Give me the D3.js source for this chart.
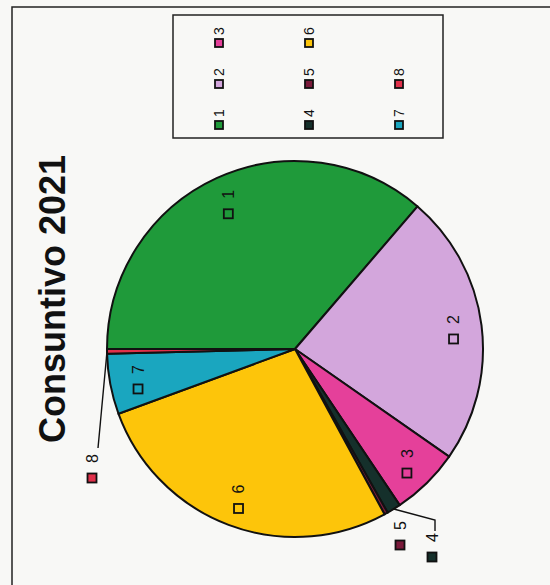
<!DOCTYPE html>
<html>
<head>
<meta charset="utf-8">
<script src="https://cdn.jsdelivr.net/npm/d3@7"></script>
<style>
body { margin: 0; background: #f8f8f6; }
svg { display: block; }
</style>
</head>
<body>
<div id="chart"></div>
<script>
var title = "Consuntivo 2021";
var categories = ["1", "2", "3", "4", "5", "6", "7", "8"];
var values = [36.3, 23.4, 5.9, 1.2, 0.3, 27.3, 5.2, 0.4];
var colors = ["#1f9a3a", "#d3a6dc", "#e5409a", "#15302b", "#7a1a3a", "#fdc50a", "#1aa6bf", "#e0304a"];

var W = 550, H = 585;

var svg = d3.select("#chart").append("svg")
	.attr("width", W)
	.attr("height", H);

// the scanned page is turned a quarter turn, so the whole chart is drawn in a rotated group
var g = svg.append("g")
	.attr("transform", "translate(0," + H + ") rotate(-90)");

// outer frame (runs off the page on two sides)
g.append("rect")
	.attr("x", -20).attr("y", 12)
	.attr("width", 598).attr("height", 600)
	.attr("fill", "none")
	.attr("stroke", "#222")
	.attr("stroke-width", 1.5);

g.append("text")
	.attr("x", 286).attr("y", 65)
	.attr("text-anchor", "middle")
	.attr("font-family", "Liberation Sans, Arial, sans-serif")
	.attr("font-weight", "bold")
	.attr("font-size", "36px")
	.attr("fill", "#111")
	.text(title);

var cx = 236, cy = 295, r = 188;

var pie = d3.pie().sort(null).value(function(d) { return d; });
var arcs = pie(values);

var arc = d3.arc().innerRadius(0).outerRadius(r);
var labelArc = d3.arc().innerRadius(r * 0.85).outerRadius(r * 0.85);

var pieG = g.append("g").attr("transform", "translate(" + cx + "," + cy + ")");

pieG.selectAll("path.slice")
	.data(arcs)
	.enter().append("path")
	.attr("class", "slice")
	.attr("d", arc)
	.attr("fill", function(d, i) { return colors[i]; })
	.attr("stroke", "#111")
	.attr("stroke-width", 2)
	.attr("stroke-linejoin", "round");

var key = function(sel, x, y, c, size) {
	sel.append("rect")
		.attr("x", x - size / 2).attr("y", y - size / 2)
		.attr("width", size).attr("height", size)
		.attr("fill", c)
		.attr("stroke", "#111")
		.attr("stroke-width", 1.8);
};

// labels that sit outside the pie (tiny slices), offsets from the centre
var outside = {
	3: { key: [-208, 137], leader: [[-182, 140], [-171, 140]] },
	4: { key: [-196, 105], leader: null },
	7: { key: [-129, -203], leader: [[-99, -197]] }
};

arcs.forEach(function(d, i) {
	var kx, ky;
	if (outside[i]) {
		kx = outside[i].key[0];
		ky = outside[i].key[1];
		if (outside[i].leader) {
			var mid = (d.startAngle + d.endAngle) / 2;
			var pts = outside[i].leader.slice();
			pts.push([Math.sin(mid) * r, -Math.cos(mid) * r]);
			pieG.append("path")
				.attr("d", d3.line()(pts))
				.attr("fill", "none")
				.attr("stroke", "#111")
				.attr("stroke-width", 1.4);
		}
	} else {
		var c = labelArc.centroid(d);
		kx = c[0] - 10;
		ky = c[1];
	}
	key(pieG, kx, ky, colors[i], 9);
	pieG.append("text")
		.attr("x", kx + 15)
		.attr("y", ky)
		.attr("dy", "0.36em")
		.attr("font-family", "Liberation Sans, Arial, sans-serif")
		.attr("font-size", "16px")
		.attr("fill", "#111")
		.text(categories[i]);
});

// legend, three items per row
var legG = g.append("g");
legG.append("rect")
	.attr("x", 447).attr("y", 173)
	.attr("width", 123).attr("height", 270)
	.attr("fill", "none")
	.attr("stroke", "#222")
	.attr("stroke-width", 1.5);

categories.forEach(function(name, i) {
	var lx = 460 + (i % 3) * 41;
	var ly = 219 + Math.floor(i / 3) * 90;
	key(legG, lx, ly, colors[i], 8);
	legG.append("text")
		.attr("x", lx + 8)
		.attr("y", ly)
		.attr("dy", "0.36em")
		.attr("font-family", "Liberation Sans, Arial, sans-serif")
		.attr("font-size", "14px")
		.attr("fill", "#111")
		.text(name);
});
</script>
</body>
</html>
